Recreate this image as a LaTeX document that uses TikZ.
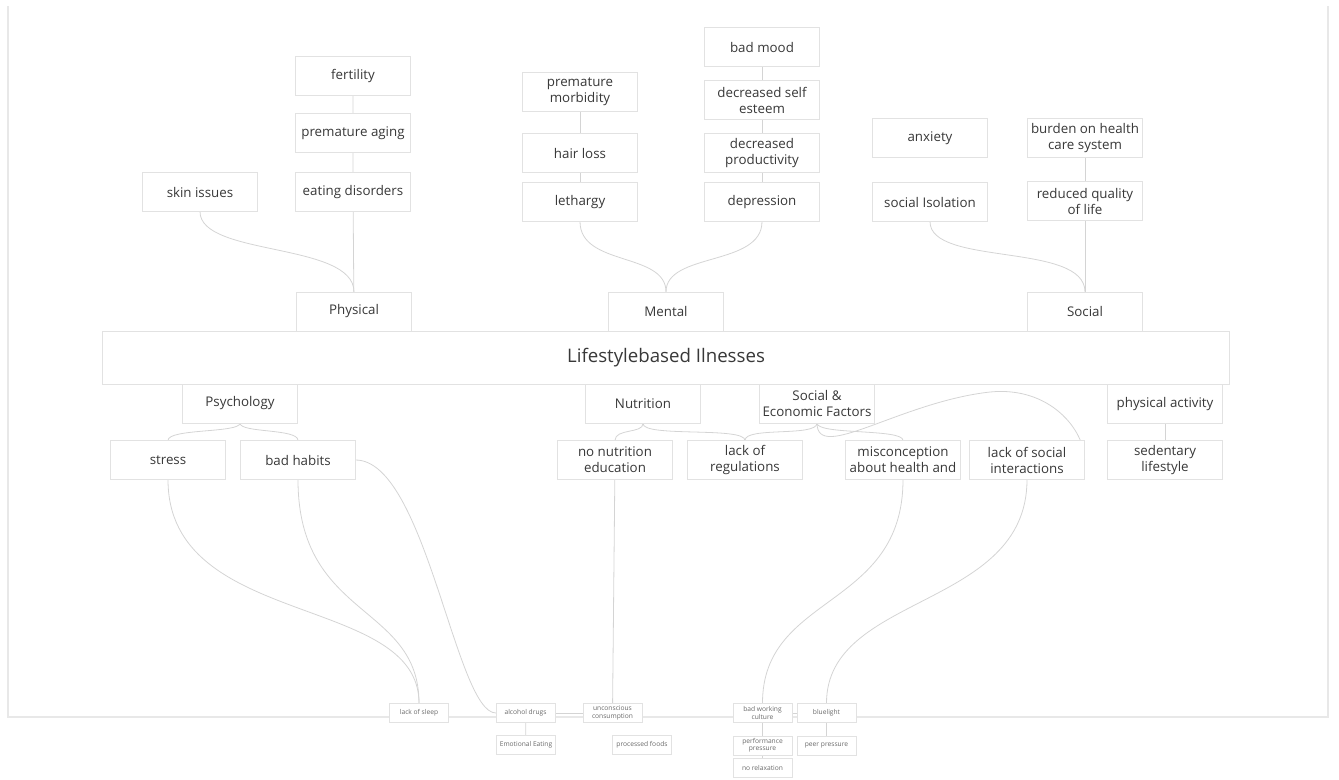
\documentclass[tikz,border=0pt]{standalone}
\usepackage{fontspec}
\setmainfont{Open Sans}
\usetikzlibrary{positioning}
\definecolor{boxline}{HTML}{E2E2E2}
\definecolor{linkgray}{HTML}{D4D4D4}
\definecolor{txtgray}{HTML}{383838}
\definecolor{framegray}{HTML}{E8E8E8}
\pgfdeclarelayer{bg}
\pgfsetlayers{bg,main}

\begin{document}
\begin{tikzpicture}[
    x=0.75pt, y=-0.75pt,
    box/.style={rectangle, draw=boxline, fill=white, minimum width=86pt, minimum height=29pt, align=center, inner sep=1pt, text=txtgray, font=\fontsize{10}{12}\selectfont},
    tinybox/.style={rectangle, draw=boxline, fill=white, minimum width=44pt, minimum height=14.5pt, align=center, inner sep=0.5pt, text=txtgray!75, font=\fontsize{5}{5.6}\selectfont},
    link/.style={draw=linkgray, line width=0.6pt},
    frame/.style={draw=framegray, line width=1.4pt}
]
\useasboundingbox (0,0) rectangle (1339,779);

% Frame of the board
\draw[frame] (8,6) -- (8,717) -- (1328,717) -- (1328,6);

% Centre
\node[box, minimum width=845pt, minimum height=40pt, font=\fontsize{14}{16}\selectfont] (main) at (666,357.5) {Lifestylebased Ilnesses};

% Effects: physical
\node[box] (fert) at (353,76) {fertility};
\node[box] (aging) at (353,133) {premature aging};
\node[box] (eating) at (353,192) {eating disorders};
\node[box] (skin) at (200,192) {skin issues};
\node[box] (phys) at (354,311.5) {Physical};

% Effects: mental
\node[box] (morb) at (580,92) {premature\\morbidity};
\node[box] (hair) at (580,153) {hair loss};
\node[box] (leth) at (580,202) {lethargy};
\node[box] (mood) at (762,47) {bad mood};
\node[box] (esteem) at (762,100) {decreased self\\esteem};
\node[box] (prod) at (762,153) {decreased\\productivity};
\node[box] (depr) at (762,202) {depression};
\node[box] (mental) at (666,311.5) {Mental};

% Effects: social
\node[box] (anx) at (930,138) {anxiety};
\node[box] (isol) at (930,202) {social Isolation};
\node[box] (burden) at (1085,138) {burden on health\\care system};
\node[box] (quality) at (1085,201) {reduced quality\\of life};
\node[box] (social) at (1085,311.5) {Social};

% Causes
\node[box] (psych) at (240,403.5) {Psychology};
\node[box] (nutr) at (643,404) {Nutrition};
\node[box] (soceco) at (817,403.5) {Social \&\\Economic Factors};
\node[box] (physact) at (1165,404) {physical activity};

\node[box] (stress) at (168,460) {stress};
\node[box] (habits) at (298,460) {bad habits};
\node[box] (noedu) at (615,460) {no nutrition\\education};
\node[box] (noreg) at (745,460) {lack of\\regulations};
\node[box] (miscon) at (903,460) {misconception\\about health and};
\node[box] (lackint) at (1027,460) {lack of social\\interactions};
\node[box] (sedent) at (1165,460) {sedentary\\lifestyle};

% Details at the bottom
\node[tinybox] (sleep) at (419,713) {lack of sleep};
\node[tinybox] (alcohol) at (525.5,713) {alcohol drugs};
\node[tinybox] (uncons) at (612.5,713) {unconscious\\consumption};
\node[tinybox] (emo) at (526,745) {Emotional Eating};
\node[tinybox] (procf) at (642,745) {processed foods};
\node[tinybox] (badwork) at (762.5,713) {bad working\\culture};
\node[tinybox] (blue) at (826.5,713) {bluelight};
\node[tinybox] (perf) at (762.5,745.5) {performance\\pressure};
\node[tinybox] (peer) at (826.5,745.5) {peer pressure};
\node[tinybox] (norelax) at (762.5,768) {no relaxation};

\begin{pgfonlayer}{bg}
% upper tree
\draw[link] (fert) -- (aging) -- (eating) -- (phys);
\draw[link] (skin.south) .. controls +(0,45) and +(0,-50) .. (phys.north);
\draw[link] (morb) -- (hair) -- (leth);
\draw[link] (mood) -- (esteem) -- (prod) -- (depr);
\draw[link] (leth.south) .. controls +(0,45) and +(0,-40) .. (mental.north);
\draw[link] (depr.south) .. controls +(0,45) and +(0,-40) .. (mental.north);
\draw[link] (burden) -- (quality) -- (social);
\draw[link] (isol.south) .. controls +(0,45) and +(0,-50) .. (social.north);

% lower tree
\draw[link] (psych.south) .. controls +(0,10) and +(0,-12) .. (stress.north);
\draw[link] (psych.south) .. controls +(0,10) and +(0,-12) .. (habits.north);
\draw[link] (nutr.south) .. controls +(0,10) and +(0,-12) .. (noedu.north);
\draw[link] (nutr.south) .. controls +(0,14) and +(0,-14) .. (noreg.north);
\draw[link] (soceco.south) .. controls +(0,14) and +(0,-14) .. (noreg.north);
\draw[link] (soceco.south) .. controls +(0,12) and +(0,-12) .. (miscon.north);
\draw[link] (soceco.south) .. controls +(0,40) and +(-90,10) .. (990,392) .. controls +(60,-6) and +(0,-30) .. (lackint.east);
\draw[link] (physact) -- (sedent);

\draw[link] (stress.south) .. controls +(0,150) and +(0,-110) .. (sleep.north);
\draw[link] (habits.south) .. controls +(0,140) and +(0,-100) .. (sleep.north);
\draw[link] (habits.east) .. controls +(70,0) and +(-40,0) .. (alcohol.west);
\draw[link] (noedu) -- (uncons);
\draw[link] (alcohol) -- (uncons);
\draw[link] (alcohol) -- (emo);
\draw[link] (miscon.south) .. controls +(0,130) and +(0,-110) .. (badwork.north);
\draw[link] (lackint.south) .. controls +(0,130) and +(0,-110) .. (blue.north);
\draw[link] (badwork) -- (blue);
\draw[link] (badwork) -- (perf) -- (norelax);
\draw[link] (blue) -- (peer);
\end{pgfonlayer}
\end{tikzpicture}
\end{document}
